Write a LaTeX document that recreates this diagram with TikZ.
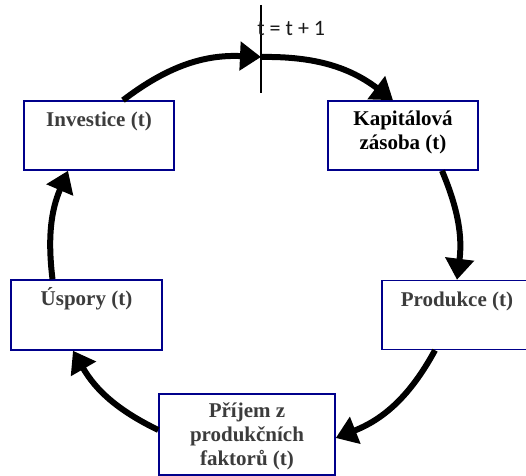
\documentclass[tikz,border=0pt]{standalone}
\usepackage{fontspec}
\setmainfont{Liberation Serif}
\newfontfamily\calibri{Carlito}
\usetikzlibrary{arrows.meta}
\definecolor{boxblue}{RGB}{0,0,139}
\definecolor{boxtext}{RGB}{60,60,60}

\begin{document}
\begin{tikzpicture}[x=0.5pt,y=0.5pt,
    box/.style={draw=boxblue,line width=0.75pt,inner sep=0pt,minimum width=75pt,
        align=center,text=boxtext,
        font=\fontsize{10.5}{12}\selectfont\bfseries},
    flow/.style={line width=3pt,-{Triangle[length=10.5pt,width=14pt]}}]
        \useasboundingbox (0,0) rectangle (526,476);

        \node[box,text height=13pt,text depth=21.5pt] (inv) at (99,340.5) {Investice (t)};
        \node[box,text height=24.5pt,text depth=10pt,text=black] (kap) at (403,340.5) {Kapitálová\\zásoba (t)};
        \node[box,text height=13pt,text depth=21.5pt] (prod) at (457,161) {Produkce (t)};
        \node[box,text height=36pt,text depth=4.5pt,minimum width=88pt] (prij) at (247,41.5) {Příjem z\\produkčních\\faktorů (t)};
        \node[box,text height=13pt,text depth=22pt,minimum width=75.5pt] (usp) at (86.5,161) {Úspory (t)};

        \coordinate (tick) at (261,419);
        \coordinate (ticktop) at (261,471);
        \coordinate (tickbot) at (261,383);
        \draw[line width=0.75pt] (ticktop) -- (tickbot);
        \node[anchor=base west,inner sep=0pt,text=black!90,
            font=\calibri\fontsize{11}{12}\selectfont] (tlabel) at (257,440) {t = t + 1};

        \draw[flow] ([xshift=12pt]inv.north) to[bend left=20] (tick);
        \draw[flow] (tick) to[bend left=19] ([xshift=-5pt]kap.north);
        \draw[flow] ([xshift=19.5pt]kap.south) to[bend left=15] (prod.north);
        \draw[flow] ([xshift=-11pt]prod.south) to[bend left=20] ([yshift=-1.75pt]prij.east);
        \draw[flow] ([yshift=2.25pt]prij.west) to[bend left=17] ([xshift=-6.75pt]usp.south);
        \draw[flow] ([xshift=-17pt]usp.north) to[bend left=15] ([xshift=-15.5pt]inv.south);
    \end{tikzpicture}
\end{document}
